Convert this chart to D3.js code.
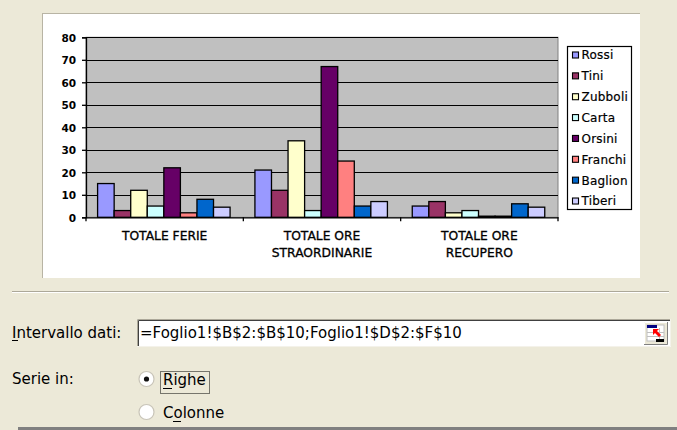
<!DOCTYPE html>
<html>
<head>
<meta charset="utf-8">
<script src="https://cdn.jsdelivr.net/npm/d3@7"></script>
<style>
  html, body { margin: 0; padding: 0; background: #ECE9D8; }
  svg { display: block; }
</style>
</head>
<body>
<svg id="chart" width="677" height="430"></svg>
<script>
// Categories (each split into display lines)
const categories = ["TOTALE FERIE", "TOTALE ORE STRAORDINARIE", "TOTALE ORE RECUPERO"];
const categoryLines = [["TOTALE FERIE"], ["TOTALE ORE", "STRAORDINARIE"], ["TOTALE ORE", "RECUPERO"]];

// Series (one per employee), values per category
const seriesNames = ["Rossi", "Tini", "Zubboli", "Carta", "Orsini", "Franchi", "Baglioni", "Tiberi"];
const rossi    = [15, 21, 5];
const tini     = [3, 12, 7];
const zubboli  = [12, 34, 2];
const carta    = [5, 3, 3];
const orsini   = [22, 67, 0.5];
const franchi  = [2, 25, 0.5];
const baglioni = [8, 5, 6];
const tiberi   = [4.5, 7, 4.5];
const seriesColors = ["#9999FF", "#993366", "#FFFFCC", "#CCFFFF", "#660066", "#FF8080", "#0066CC", "#CCCCFF"];

const yTicks = [0, 10, 20, 30, 40, 50, 60, 70, 80];

// Dialog texts
const rangeLabel = "Intervallo dati:";
const rangeValue = "=Foglio1!$B$2:$B$10;Foglio1!$D$2:$F$10";
const seriesInLabel = "Serie in:";
const optionLabels = ["Righe", "Colonne"];

const seriesValues = [rossi, tini, zubboli, carta, orsini, franchi, baglioni, tiberi];

const svg = d3.select("#chart");
const FONT = "'DejaVu Sans', Verdana, sans-serif";

// ---------- chart panel ----------
svg.append("rect").attr("x", 42).attr("y", 13).attr("width", 598).attr("height", 265).attr("fill", "#FFFFFF");
svg.append("line").attr("x1", 42).attr("x2", 640).attr("y1", 13.5).attr("y2", 13.5).attr("stroke", "#B8B4A4");
svg.append("line").attr("x1", 42.5).attr("x2", 42.5).attr("y1", 13).attr("y2", 278).attr("stroke", "#B8B4A4");

const plot = { left: 86, right: 558, top: 37.3, bottom: 217.3 };

const x = d3.scaleBand().domain(categories).range([plot.left, plot.right]).paddingInner(0).paddingOuter(0);
// gap width 150%: the group of 8 bars takes 8/9.5 of each band
const barW = x.bandwidth() / (seriesNames.length + 1.5);
const xs = d3.scaleBand().domain(seriesNames)
  .range([barW * 0.7, barW * 0.7 + barW * seriesNames.length]);
const y = d3.scaleLinear().domain([0, 80]).range([plot.bottom, plot.top]);

// plot background
svg.append("rect")
  .attr("x", plot.left).attr("y", plot.top)
  .attr("width", plot.right - plot.left).attr("height", plot.bottom - plot.top)
  .attr("fill", "#C0C0C0").attr("stroke", "#808080").attr("stroke-width", 1);

// gridlines
svg.append("g").selectAll("line").data(yTicks.filter(t => t > 0)).join("line")
  .attr("x1", plot.left).attr("x2", plot.right)
  .attr("y1", d => Math.round(y(d)) + 0.5).attr("y2", d => Math.round(y(d)) + 0.5)
  .attr("stroke", "#000").attr("stroke-width", 1.2);

// bars
const groups = svg.append("g").selectAll("g").data(categories).join("g")
  .attr("transform", d => `translate(${x(d)},0)`);
groups.selectAll("rect")
  .data((c, ci) => seriesNames.map((s, si) => ({ s, si, v: seriesValues[si][ci] })))
  .join("rect")
  .attr("x", d => xs(d.s))
  .attr("y", d => y(d.v))
  .attr("width", xs.bandwidth())
  .attr("height", d => y(0) - y(d.v))
  .attr("fill", d => seriesColors[d.si])
  .attr("stroke", "#000").attr("stroke-width", 1.3);

// y axis
const yAxis = d3.axisLeft(y).tickValues(yTicks).tickSize(4).tickPadding(6);
const gy = svg.append("g").attr("transform", `translate(${plot.left},0)`).call(yAxis);
gy.select(".domain").attr("stroke", "#000").attr("stroke-width", 1.3);
gy.selectAll(".tick line").attr("stroke", "#000").attr("stroke-width", 1.3);
gy.selectAll(".tick text")
  .attr("font-family", FONT).attr("font-size", "10.5px").attr("font-weight", "bold")
  .attr("fill", "#000").attr("dy", "0.36em");

// x axis
const xAxis = d3.axisBottom(x).tickSize(0).tickFormat("");
const gx = svg.append("g").attr("transform", `translate(0,${plot.bottom})`).call(xAxis);
gx.select(".domain").attr("stroke", "#000").attr("stroke-width", 1.3);
// tick marks at category boundaries
const bounds = categories.map(c => x(c)).concat([plot.right]);
gx.selectAll(".bound").data(bounds).join("line").attr("class", "bound")
  .attr("x1", d => d).attr("x2", d => d).attr("y1", 0).attr("y2", 4)
  .attr("stroke", "#000").attr("stroke-width", 1.3);

// category labels
svg.append("g").selectAll("text").data(categories).join("text")
  .attr("x", d => x(d) + x.bandwidth() / 2)
  .attr("y", 239.5)
  .attr("text-anchor", "middle")
  .attr("font-family", FONT).attr("font-size", "12.3px").attr("fill", "#000")
  .attr("stroke", "#000").attr("stroke-width", 0.3)
  .each(function (d, i) {
    const t = d3.select(this);
    categoryLines[i].forEach((ln, k) => {
      t.append("tspan").attr("x", x(d) + x.bandwidth() / 2).attr("dy", k === 0 ? 0 : 17.5).text(ln);
    });
  });

// legend
const lg = { x: 567, y: 46, w: 64, h: 163 };
svg.append("clipPath").attr("id", "legclip").append("rect")
  .attr("x", lg.x).attr("y", lg.y).attr("width", 61).attr("height", lg.h);
svg.append("rect").attr("x", lg.x + 0.5).attr("y", lg.y + 0.5).attr("width", lg.w).attr("height", lg.h)
  .attr("fill", "#FFFFFF");
const legItems = svg.append("g").attr("clip-path", "url(#legclip)")
  .selectAll("g").data(seriesNames).join("g")
  .attr("transform", (d, i) => `translate(${lg.x},${55 + i * 20.86})`);
legItems.append("rect").attr("x", 5.5).attr("y", -3).attr("width", 6).attr("height", 6)
  .attr("fill", (d, i) => seriesColors[i]).attr("stroke", "#000").attr("stroke-width", 1.1);
legItems.append("text").attr("x", 14.5).attr("y", 4.4)
  .attr("font-family", FONT).attr("font-size", "12px").attr("letter-spacing", "0.2px").attr("fill", "#000")
  .attr("stroke", "#000").attr("stroke-width", 0.2)
  .text(d => d);
svg.append("rect").attr("x", lg.x + 0.5).attr("y", lg.y + 0.5).attr("width", lg.w).attr("height", lg.h)
  .attr("fill", "none").attr("stroke", "#000").attr("stroke-width", 1.2);

// ---------- dialog controls ----------
svg.append("line").attr("x1", 12).attr("x2", 669).attr("y1", 291.5).attr("y2", 291.5).attr("stroke", "#ACA899");
svg.append("line").attr("x1", 12).attr("x2", 669).attr("y1", 292.5).attr("y2", 292.5).attr("stroke", "#FFFFFF");

svg.append("text").attr("x", 12).attr("y", 338)
  .attr("font-family", FONT).attr("font-size", "15px").attr("fill", "#000").text(rangeLabel);
svg.append("line").attr("x1", 12).attr("x2", 18).attr("y1", 340.5).attr("y2", 340.5).attr("stroke", "#000");

// input box
const box = { x: 137, y: 319, w: 534, h: 28 };
svg.append("rect").attr("x", box.x).attr("y", box.y).attr("width", box.w).attr("height", box.h).attr("fill", "#FFFFFF");
svg.append("path").attr("d", `M${box.x + 0.5},${box.y + box.h} V${box.y + 0.5} H${box.x + box.w}`)
  .attr("fill", "none").attr("stroke", "#ACA899");
svg.append("path").attr("d", `M${box.x + 1.5},${box.y + box.h - 1} V${box.y + 1.5} H${box.x + box.w - 1}`)
  .attr("fill", "none").attr("stroke", "#404040");
svg.append("path").attr("d", `M${box.x},${box.y + box.h - 0.5} H${box.x + box.w - 0.5} V${box.y}`)
  .attr("fill", "none").attr("stroke", "#F4F2EA");
svg.append("text").attr("x", box.x + 3).attr("y", 338)
  .attr("font-family", FONT).attr("font-size", "15px").attr("fill", "#000").text(rangeValue);

// collapse-dialog button
const btn = svg.append("g").attr("transform", "translate(644,322)");
btn.append("rect").attr("width", 24).attr("height", 23).attr("fill", "#ECE9D8");
btn.append("path").attr("d", "M0.5,23 V0.5 H24").attr("fill", "none").attr("stroke", "#FFFFFF");
btn.append("path").attr("d", "M0,22.5 H23.5 V0").attr("fill", "none").attr("stroke", "#808080");
btn.append("rect").attr("x", 3).attr("y", 3).attr("width", 17).attr("height", 16).attr("fill", "#FFFFFF").attr("stroke", "#C0C0C0");
btn.append("rect").attr("x", 3).attr("y", 3).attr("width", 10).attr("height", 3).attr("fill", "#000080");
btn.append("path").attr("d", "M3,10.5 H20 M3,14.5 H20 M15.5,6 V19").attr("stroke", "#C0C0C0");
btn.append("rect").attr("x", 12).attr("y", 17).attr("width", 8).attr("height", 3).attr("fill", "#000");
btn.append("path").attr("d", "M9,7 L15,7 L13,9 L17,13 L15,15 L11,11 L9,13 Z").attr("fill", "#FF0000");

svg.append("text").attr("x", 12).attr("y", 384)
  .attr("font-family", FONT).attr("font-size", "15px").attr("fill", "#000").text(seriesInLabel);

// radio buttons
const radios = svg.append("g").selectAll("g").data(optionLabels).join("g")
  .attr("transform", (d, i) => `translate(146.5,${379 + i * 33})`);
radios.append("circle").attr("r", 7.5).attr("fill", "#FFFFFF").attr("stroke", "#C8C4B8").attr("stroke-width", 1.2);
radios.filter((d, i) => i === 0).append("circle").attr("r", 2.6).attr("fill", "#111");
radios.append("text").attr("x", 16.5).attr("y", 5.5)
  .attr("font-family", FONT).attr("font-size", "15px").attr("fill", "#000").text(d => d);
// mnemonic underlines (R, o)
svg.append("line").attr("x1", 163).attr("x2", 172).attr("y1", 388.5).attr("y2", 388.5).attr("stroke", "#000");
svg.append("line").attr("x1", 173).attr("x2", 181).attr("y1", 421.5).attr("y2", 421.5).attr("stroke", "#000");
// focus rectangle
svg.append("rect").attr("x", 160.5).attr("y", 371.5).attr("width", 49).attr("height", 22)
  .attr("fill", "none").attr("stroke", "#000").attr("stroke-dasharray", "1,1");

// bottom edge
svg.append("rect").attr("x", 18).attr("y", 427).attr("width", 659).attr("height", 3).attr("fill", "#808080");
</script>
</body>
</html>
